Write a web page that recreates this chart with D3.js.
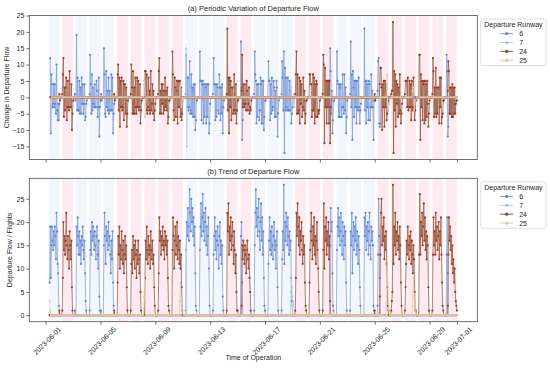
<!DOCTYPE html>
<html><head><meta charset="utf-8">
<script src="https://cdn.jsdelivr.net/npm/d3@7"></script>
<style>body{margin:0;background:#fff} text{font-family:"Liberation Sans",Arial,Helvetica,sans-serif;fill:#262626}</style>
</head><body><svg id="c" width="550" height="368"></svg>
<script>
// ---------------- DATA ----------------
const runways = ["6", "7", "24", "25"];
const lineColors = ["#7d9ad9", "#b3cbe8", "#95573a", "#e4cdb0"];
const markerColors = ["#6383cf", "#a6c2e4", "#9e3a2a", "#dfc4a2"];
// main runway per day (06-01 .. 06-30), used for background shading
const mainRunway = [6,24,6,6,6,24,24,24,24,24,6,6,6,24,24,6,6,6,24,24,24,6,6,6,24,24,24,24,24,24];
// hourly departures: [dayIndex (0 = 06-01), startHour, values...]
const flow6 = [
  [0, 0, [0,0,0,0,0,0,0,7,19,8,15,19,16,14,18,15,19,17,12,22,18,11,9,2]],
  [2, 0, [0,0,0,1,0,0,19,15,21,17,13,18,13,16,11,17,15,19,14,12,16,9,3,1]],
  [3, 0, [0,0,0,0,0,1,14,18,13,20,16,19,17,14,18,15,12,17,19,13,10,16,4,1]],
  [4, 0, [0,1,0,0,0,0,15,22,17,11,19,16,18,14,20,15,17,13,9,16,12,18,7,2]],
  [10, 0, [0,0,0,0,0,1,14,20,17,23,19,16,27,22,18,25,20,23,17,21,15,19,9,2]],
  [11, 0, [1,0,0,0,0,0,14,19,24,17,21,26,18,22,16,20,23,15,19,13,17,21,10,2]],
  [12, 0, [0,0,0,0,0,1,13,17,21,14,18,12,16,19,15,10,17,20,13,16,11,15,4,1]],
  [14, 0, [0,0,0,0,0,0,17,20,7]],
  [15, 0, [0,0,0,0,0,1,15,22,27,19,23,17,21,25,18,14,20,24,16,21,13,18,8,2]],
  [16, 0, [1,0,0,0,0,0,11,16,21,14,18,13,19,15,12,17,20,14,16,10,15,18,6,1]],
  [17, 0, [0,0,0,0,0,1,12,18,14,28,11,20,16,22,19,15,21,17,13,18,14,16,8,3]],
  [20, 18, [15,23,18,20,9,2]],
  [21, 0, [1,0,0,0,0,0,14,19,23,17,21,15,18,22,16,13,20,17,12,19,15,18,7,1]],
  [22, 0, [0,0,0,0,0,1,18,15,22,9,17,20,14,19,16,21,13,18,15,11,17,14,6,2]],
  [23, 0, [0,0,0,0,0,0,21,17,22,14,19,16,20,13,18,22,15,12,19,16,18,15,2,1]],
  [24, 0, [0,0,0,0,0,2,13,25,17,8]],
  [29, 0, [0,0,0,0,0,0,13,21,9]]
];
const flow7 = [
  [10, 6, [15]],
  [17, 21, [5,8,6]],
  [18, 0, [4,2,3]]
];
const flow24 = [
  [1, 0, [1,0,0,0,0,1,8,20,14,17,13,16,22,15,12,17,14,10,18,15,12,16,6,1]],
  [5, 0, [1,0,0,0,0,0,7,17,13,19,10,15,12,18,14,11,16,9,13,17,12,15,6,1]],
  [6, 0, [0,0,0,0,0,1,11,14,9,17,12,15,10,16,13,8,14,11,16,12,9,13,5,1]],
  [7, 0, [0,0,0,0,0,0,8,16,12,19,14,11,17,13,15,10,18,14,12,16,11,13,6,2]],
  [8, 0, [0,0,0,0,0,1,9,21,16,18,13,17,15,19,14,16,12,18,15,17,13,16,8,2]],
  [9, 0, [1,0,0,0,0,0,14,21,17,10,16,19,13,15,20,12,17,14,11,16,10,13,6,1]],
  [13, 0, [0,0,0,0,0,1,22,18,24,13,19,16,21,14,17,20,15,11,18,14,9,13,5,1]],
  [14, 0, [1,0,0,0,0,0,0,2,15,12,16,14,11,15,13,9,14,16,12,10,13,8,5,1]],
  [18, 0, [0,0,0,0,0,1,8,22,17,24,19,15,21,13,18,16,20,14,11,17,13,15,7,2]],
  [19, 0, [1,0,0,0,0,0,7,14,18,22,16,12,19,15,21,13,17,11,16,20,14,10,5,1]],
  [20, 0, [0,0,0,0,0,1,14,24,10,19,16,21,13,18,15,20,12,17,3,0,0,0,0,0]],
  [24, 0, [1,0,0,0,0,0,0,0,0,4,13,22,25,15,19,16,21,12,17,14,18,11,6,2]],
  [25, 0, [1,0,0,0,0,1,3,5,28,11,19,15,22,13,18,16,20,14,17,12,19,15,7,2]],
  [26, 0, [0,0,0,0,0,1,6,11,16,13,19,15,12,17,14,18,11,16,13,9,15,12,5,1]],
  [27, 0, [1,0,0,0,0,0,13,26,13,20,17,22,15,19,24,16,21,14,18,12,17,15,6,1]],
  [28, 0, [0,0,0,0,0,1,13,21,15,18,13,22,16,19,14,17,20,12,18,15,21,13,7,2]],
  [29, 0, [1,0,0,0,0,0,0,0,2,13,21,16,19,14,17,11,15,9,12,7,10,5,3,2]],
  [30, 0, [1]]
];
const flow25 = [
  [0, 7, [3,1]],
  [7, 4, [4,9,3]],
  [9, 19, [3,7,4,2,1]],
  [10, 0, [1]],
  [24, 21, [4,11,7]],
  [25, 0, [3,1]],
  [26, 18, [2,5,8,4,2,1]]
];
const xTickLabels = ["2023-06-01","2023-06-05","2023-06-09","2023-06-13","2023-06-17","2023-06-21","2023-06-25","2023-06-29","2023-07-01"];
const yTicksTop = [-15,-10,-5,0,5,10,15,20,25];
const yTicksBottom = [0,5,10,15,20,25];
const titles = ["(a) Periodic Variation of Departure Flow", "(b) Trend of Departure Flow"];
const yLabels = ["Change in Departure Flow", "Departure Flow / Flights"];
const xLabel = "Time of Operation";
const legendTitle = "Departure Runway";

// ---------------- BUILD ----------------
const base = new Date(2023, 5, 1, 0);
const tStart = new Date(2023, 5, 1, 7), tEnd = new Date(2023, 6, 1, 0);
const hours = d3.timeHour.range(tStart, d3.timeHour.offset(tEnd, 1));
function build(spec) {
  const m = new Map();
  spec.forEach(([d, h0, vals]) => vals.forEach((v, i) => m.set(d * 24 + h0 + i, v)));
  return hours.map(t => { const k = Math.round((t - base) / 3600000); return {t, v: m.has(k) ? m.get(k) : 0}; });
}
const flows = [flow6, flow7, flow24, flow25].map(build);
const diffs = flows.map(s => s.slice(1).map((p, i) => ({t: p.t, v: p.v - s[i].v})));

const svg = d3.select("#c");
const L = 29.3, R = 477.3;
const panels = [{top: 15.5, bottom: 159.5, data: diffs, ticks: yTicksTop},
                {top: 178.3, bottom: 321.7, data: flows, ticks: yTicksBottom}];
const tExt = d3.extent(hours), tR = tExt[1] - tExt[0];
const x = d3.scaleTime().domain([new Date(+tExt[0] - 0.05 * tR), new Date(+tExt[1] + 0.05 * tR)]).range([L, R]);
const parse = d3.timeParse("%Y-%m-%d");
const xTicks = xTickLabels.map(parse);
const fmt = d3.timeFormat("%Y-%m-%d");

panels.forEach((p, pi) => {
  const all = p.data.flat().map(d => d.v);
  const [mn, mx] = d3.extent(all), pad = (mx - mn) * 0.05;
  const y = d3.scaleLinear().domain([mn - pad, mx + pad]).range([p.bottom, p.top]);
  const g = svg.append("g");
  const clipId = "clip" + pi;
  svg.append("clipPath").attr("id", clipId).append("rect").attr("x", L).attr("y", p.top).attr("width", R - L).attr("height", p.bottom - p.top);
  const inner = g.append("g").attr("clip-path", `url(#${clipId})`);
  // shading bands
  mainRunway.forEach((rw, d) => {
    const a = x(d3.timeHour.offset(base, d * 24 + 5)), b = x(d3.timeHour.offset(base, d * 24 + 24));
    inner.append("rect").attr("x", a).attr("y", p.top).attr("width", b - a).attr("height", p.bottom - p.top)
      .attr("fill", rw === 24 ? "#fdebf1" : "#f2f6fd");
  });
  const line = d3.line().x(d => x(d.t)).y(d => y(d.v));
  p.data.forEach((s, si) => {
    inner.append("path").datum(s).attr("d", line).attr("fill", "none")
      .attr("stroke", lineColors[si]).attr("stroke-width", 0.8).attr("stroke-opacity", 0.9);
    inner.append("g").selectAll("circle").data(s).join("circle")
      .attr("cx", d => x(d.t)).attr("cy", d => y(d.v)).attr("r", si === 3 || si === 1 ? 0.9 : 1.1)
      .attr("fill", markerColors[si]);
  });
  // frame
  g.append("rect").attr("x", L).attr("y", p.top).attr("width", R - L).attr("height", p.bottom - p.top)
    .attr("fill", "none").attr("stroke", "#4d4d4d").attr("stroke-width", 0.8);
  // y axis
  const ya = g.append("g").attr("transform", `translate(${L},0)`)
    .call(d3.axisLeft(y).tickValues(p.ticks).tickSize(3).tickPadding(2));
  ya.select(".domain").remove();
  ya.selectAll("line").attr("stroke", "#4d4d4d").attr("stroke-width", 0.8);
  ya.selectAll("text").style("font-size", "7px").attr("fill", "#262626");
  // x axis
  const xa = g.append("g").attr("transform", `translate(0,${p.bottom})`)
    .call(d3.axisBottom(x).tickValues(xTicks).tickSize(3).tickFormat(pi === 1 ? fmt : ""));
  xa.select(".domain").remove();
  xa.selectAll("line").attr("stroke", "#4d4d4d").attr("stroke-width", 0.8);
  if (pi === 1) {
    xa.selectAll("text").style("font-size", "7px").attr("fill", "#262626")
      .attr("text-anchor", "middle").attr("dy", null).attr("y", null)
      .attr("transform", "translate(1,19) rotate(-45)").attr("dominant-baseline", "central");
  }
  // title
  g.append("text").attr("x", (L + R) / 2).attr("y", p.top - 4.5).attr("text-anchor", "middle")
    .style("font-size", "7.5px").text(titles[pi]);
  // y label
  const ylx = pi === 0 ? 8.5 : 12;
  g.append("text").attr("transform", `translate(${ylx},${(p.top + p.bottom) / 2}) rotate(-90)`)
    .attr("text-anchor", "middle").style("font-size", "7px").text(yLabels[pi]);
  // legend
  const lg = g.append("g").attr("transform", `translate(480.7,${p.top + 3.5})`);
  lg.append("rect").attr("width", 65.3).attr("height", 46.5).attr("rx", 2)
    .attr("fill", "#fff").attr("stroke", "#d6d6d6").attr("stroke-width", 0.8);
  lg.append("text").attr("x", 32.7).attr("y", 8.3).attr("text-anchor", "middle").style("font-size", "7px").text(legendTitle);
  runways.forEach((r, i) => {
    const yy = 14.6 + i * 8.9;
    lg.append("line").attr("x1", 19.5).attr("x2", 32.5).attr("y1", yy).attr("y2", yy)
      .attr("stroke", lineColors[i]).attr("stroke-width", 1);
    lg.append("circle").attr("cx", 26).attr("cy", yy).attr("r", 1.6).attr("fill", markerColors[i]);
    lg.append("text").attr("x", 38.5).attr("y", yy + 2.5).style("font-size", "7px").attr("fill", "#262626").text(r);
  });
});
svg.append("text").attr("x", (L + R) / 2).attr("y", 360).attr("text-anchor", "middle").style("font-size", "7px").text(xLabel);
</script></body></html>
